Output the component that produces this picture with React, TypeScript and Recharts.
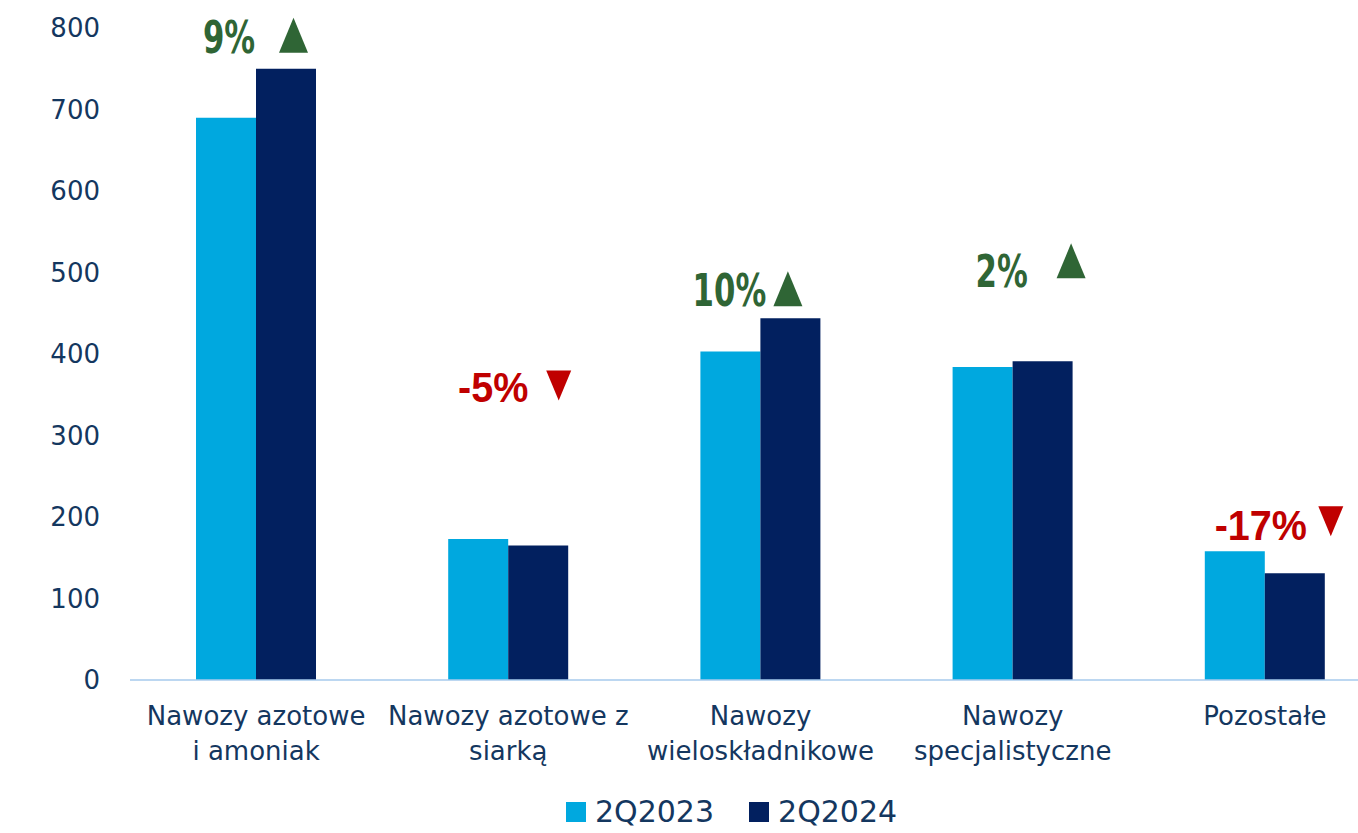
import { BarChart, Bar, XAxis, YAxis, Legend, LabelList } from "recharts";

const CATEGORIES = [
  "Nawozy azotowe\ni amoniak",
  "Nawozy azotowe z\nsiarką",
  "Nawozy\nwieloskładnikowe",
  "Nawozy\nspecjalistyczne",
  "Pozostałe",
];
const VALUES_2023 = [690, 173, 403, 384, 158];
const VALUES_2024 = [750, 165, 444, 391, 131];
const CHANGES = ["9%", "-5%", "10%", "2%", "-17%"];
const Y_TICKS = [0, 100, 200, 300, 400, 500, 600, 700, 800];
const SERIES_NAMES = ["2Q2023", "2Q2024"];

const LIGHT = "#00A8DF";
const DARK = "#02205F";
const TEXT = "#14375F";
const UP = "#2F6535";
const DOWN = "#C00000";
const FONT = "'DejaVu Sans', sans-serif";

// where each change annotation sits, relative to the 2Q2024 bar (left edge / top)
const ANNOT_POS = [
  { tx: -27, ty: -16, gx: 37.5, gy: -51 },
  { tx: -15, ty: -144, gx: 50.5, gy: -175 },
  { tx: -31, ty: -12, gx: 27.5, gy: -47 },
  { tx: -11, ty: -74, gx: 58.5, gy: -118 },
  { tx: -4, ty: -33, gx: 66, gy: -67 },
];

const data = CATEGORIES.map((name, i) => ({
  name,
  v2023: VALUES_2023[i],
  v2024: VALUES_2024[i],
  change: CHANGES[i],
}));

const XTick = (props: any) => {
  const { x, y, payload } = props;
  const lines = String(payload.value).split("\n");
  return (
    <text x={x} y={y} textAnchor="middle" fill={TEXT} fontSize={26} fontFamily={FONT}>
      {lines.map((l, i) => (
        <tspan key={i} x={x} dy={i === 0 ? 37 : 35}>
          {l}
        </tspan>
      ))}
    </text>
  );
};

const YTick = (props: any) => {
  const { x, y, payload } = props;
  return (
    <text x={x} y={y} dy="0.36em" textAnchor="end" fill={TEXT} fontSize={26} fontFamily={FONT}>
      {payload.value}
    </text>
  );
};

const ChangeLabel = (props: any) => {
  const { x = 0, y = 0, index = 0, value } = props;
  const p = ANNOT_POS[index];
  const neg = String(value).startsWith("-");
  const color = neg ? DOWN : UP;
  const tx = x + p.tx;
  const ty = y + p.ty;
  const gx = x + p.gx;
  const gy = y + p.gy;
  const tri = neg
    ? `${gx - 12.5},${gy} ${gx + 12.5},${gy} ${gx},${gy + 30}`
    : `${gx - 14.5},${gy + 35} ${gx + 14.5},${gy + 35} ${gx},${gy}`;
  return (
    <g>
      <text
        transform={`translate(${tx} ${ty}) scale(${neg ? 0.92 : 0.76} 1)`}
        textAnchor="middle"
        fill={color}
        fontSize={neg ? 43 : 45}
        fontWeight="bold"
        fontFamily={neg ? "'Liberation Sans', Arial, sans-serif" : FONT}
        style={neg ? undefined : { fontStretch: "condensed" }}
      >
        {value}
      </text>
      <polygon points={tri} fill={color} />
    </g>
  );
};

const LegendContent = () => (
  <div
    style={{
      height: 43,
      display: "flex",
      alignItems: "center",
      paddingLeft: 566,
      fontFamily: FONT,
      fontSize: 30,
      color: TEXT,
    }}
  >
    {SERIES_NAMES.map((n, i) => (
      <div key={n} style={{ display: "flex", alignItems: "center", marginRight: 35 }}>
        <span style={{ width: 20, height: 20, background: i === 0 ? LIGHT : DARK, marginRight: 9 }} />
        <span>{n}</span>
      </div>
    ))}
  </div>
);

export default function App() {
  return (
    <div
      style={{
        position: "absolute",
        left: 0,
        top: 0,
        width: 1358,
        height: 833,
        overflow: "hidden",
        background: "#fff",
      }}
    >
      <BarChart
        width={1400}
        height={833}
        data={data}
        margin={{ top: 28, right: 9, bottom: 0, left: 0 }}
        barGap={0}
        barSize={60}
      >
        <XAxis
          dataKey="name"
          axisLine={{ stroke: "#A6CAEC", strokeWidth: 1.5 }}
          tickLine={false}
          height={110}
          interval={0}
          tick={<XTick />}
        />
        <YAxis
          width={130}
          domain={[0, 800]}
          ticks={Y_TICKS}
          axisLine={false}
          tickLine={false}
          tickMargin={24}
          tick={<YTick />}
        />
        <Legend verticalAlign="bottom" content={<LegendContent />} />
        <Bar dataKey="v2023" name={SERIES_NAMES[0]} fill={LIGHT} isAnimationActive={false} />
        <Bar dataKey="v2024" name={SERIES_NAMES[1]} fill={DARK} isAnimationActive={false}>
          <LabelList dataKey="change" content={<ChangeLabel />} />
        </Bar>
      </BarChart>
    </div>
  );
}
